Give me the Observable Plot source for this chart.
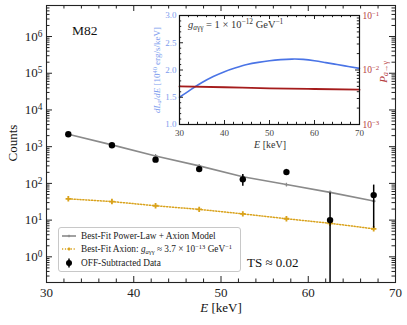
<!DOCTYPE html>
<html><head><meta charset="utf-8">
<script src="https://cdn.jsdelivr.net/npm/d3@7"></script>
<script src="https://cdn.jsdelivr.net/npm/@observablehq/plot@0.6"></script>
<style>
body{margin:0;overflow:hidden;background:#fff;font-family:"Liberation Serif",serif;}
#wrap{position:relative;width:407px;height:325px;overflow:hidden;}
.lab{position:absolute;white-space:nowrap;line-height:1;}
sub,sup{font-size:0.7em;line-height:0;}
sub{vertical-align:-0.25em;} sup{vertical-align:0.45em;}
.leg{position:absolute;left:58px;top:227px;width:181px;height:43px;border:1px solid #c8c8c8;border-radius:3px;background:rgba(255,255,255,0.85);}
.row{position:absolute;left:2px;height:12px;display:flex;align-items:center;font-size:9.3px;color:#222;white-space:nowrap;}
.row svg{margin-right:4px;}
</style></head><body><div id="wrap"></div>
<script>
// ---- data ----
const energy = [32.5, 37.5, 42.5, 47.5, 52.5, 57.5, 62.5, 67.5];
const dataCounts = [2180, 1090, 443, 245, 129, 203, 10, 48];
const dataErr = [90, 70, 55, 35, 45, 38, 45, 42];
const modelTotal = [2180, 1120, 560, 300, 152, 93, 57, 33];
const modelAxion = [38, 32, 24.6, 19.6, 14.8, 10.9, 8.2, 5.8];
const xTicks = [30, 40, 50, 60, 70];
const yTicks = [1, 10, 100, 1e3, 1e4, 1e5, 1e6];

const insetE = [30, 32.5, 35, 37.5, 40, 42.5, 45, 47.5, 50, 52.5, 55, 57.5, 60, 62.5, 65, 67.5, 70];
const insetDLdE = [1.50, 1.64, 1.77, 1.88, 1.97, 2.04, 2.10, 2.14, 2.17, 2.19, 2.20, 2.195, 2.17, 2.135, 2.10, 2.065, 2.03];
const probE = [30, 40, 50, 60, 70];
const probConv = [5.0e-3, 4.82e-3, 4.62e-3, 4.48e-3, 4.35e-3];
const insetYTicks = [1.0, 1.5, 2.0, 2.5, 3.0];
const insetPTicks = [1e-3, 1e-2, 1e-1];

// ---- helpers ----
const pow10 = d => "10^" + Math.round(Math.log10(d));
const FONT = "'Liberation Serif', serif";

function logMinor(lo, hi) {
  const out = [];
  for (let p = Math.floor(Math.log10(lo)); p <= Math.ceil(Math.log10(hi)); p++)
    for (let k = 2; k <= 9; k++) { const v = k * 10 ** p; if (v >= lo && v <= hi) out.push(v); }
  return out;
}
function xTickMarks(maj, min, ih, lMaj, lMin, stroke) {
  return [
    Plot.tickX(maj, {x: d => d, insetTop: ih - lMaj, stroke}),
    Plot.tickX(maj, {x: d => d, insetBottom: ih - lMaj, stroke}),
    Plot.tickX(min, {x: d => d, insetTop: ih - lMin, stroke}),
    Plot.tickX(min, {x: d => d, insetBottom: ih - lMin, stroke})
  ];
}
function yTickMarks(maj, min, iw, lMaj, lMin, stroke, sides) {
  const m = [];
  if (sides.includes("left")) m.push(
    Plot.tickY(maj, {y: d => d, insetRight: iw - lMaj, stroke}),
    Plot.tickY(min, {y: d => d, insetRight: iw - lMin, stroke}));
  if (sides.includes("right")) m.push(
    Plot.tickY(maj, {y: d => d, insetLeft: iw - lMaj, stroke}),
    Plot.tickY(min, {y: d => d, insetLeft: iw - lMin, stroke}));
  return m;
}
// turn "10^6" tick texts into 10 with a raised exponent
function superscriptTicks(svg) {
  d3.select(svg).selectAll('g[aria-label="y-axis tick label"] text').each(function () {
    const t = this.textContent;
    if (!t.includes("^")) return;
    const [b, e] = t.split("^");
    this.textContent = b;
    d3.select(this).append("tspan").attr("dy", "-0.42em").attr("font-size", "72%")
      .text(e.replace("-", "−"));
  });
}

const wrap = document.getElementById("wrap");

// ---- main plot ----
const W = 407, H = 325, mL = 46, mR = 12, mT = 5, mB = 43;
const iw = W - mL - mR, ih = H - mT - mB;
const yDom = [0.2, 7e6];
const rows = energy.map((E, i) => ({E, y: dataCounts[i], e: dataErr[i], m: modelTotal[i], a: modelAxion[i]}));
const GOLD = "#d9a21b", GRAY = "#8a8a8a";

const main = Plot.plot({
  width: W, height: H, marginLeft: mL, marginRight: mR, marginTop: mT, marginBottom: mB,
  style: {fontFamily: FONT, background: "transparent", color: "#222"},
  x: {domain: [30, 70]},
  y: {type: "log", domain: yDom},
  marks: [
    Plot.line(rows, {x: "E", y: "a", stroke: GOLD, strokeWidth: 1.5, strokeDasharray: "1.2,1.7"}),
    Plot.dot(rows, {x: "E", y: "a", r: 2.3, symbol: "cross", fill: GOLD}),
    Plot.line(rows, {x: "E", y: "m", stroke: GRAY, strokeWidth: 1.6}),
    Plot.dot(rows, {x: "E", y: "m", r: 1.6, symbol: "cross", fill: GRAY}),
    Plot.ruleX(rows, {x: "E", y1: d => Math.max(d.y - d.e, yDom[0]), y2: d => d.y + d.e, stroke: "#000", strokeWidth: 1.5, clip: true}),
    Plot.dot(rows, {x: "E", y: "y", r: 3.2, fill: "#000"}),
    ...xTickMarks(xTicks, d3.range(30, 71, 2).filter(v => v % 10), ih, 6, 3.5, "#222"),
    ...yTickMarks(yTicks, logMinor(yDom[0], yDom[1]), iw, 6, 3.5, "#222", ["left", "right"]),
    Plot.axisX({ticks: xTicks, tickSize: 0, tickPadding: 5.5, fontSize: 13, label: null}),
    Plot.axisY({ticks: yTicks, tickSize: 0, tickPadding: 4, fontSize: 13, label: null, tickFormat: pow10}),
    Plot.frame({stroke: "#222", strokeWidth: 1.1})
  ]
});
superscriptTicks(main);
main.style.position = "absolute"; main.style.left = "0px"; main.style.top = "0px";
wrap.appendChild(main);

// ---- inset ----
const iW = 288, iH = 159, imL = 60, imR = 48, imT = 10, imB = 40;
const iiw = iW - imL - imR, iih = iH - imT - imB;
const lumRows = insetE.map((E, i) => ({E, L: insetDLdE[i]}));
const probRows = probE.map((E, i) => ({E, P: probConv[i]}));
const BLUE = "#4a74e6", BLUE_L = "#7d9cee", RED = "#a51c1c", RED_L = "#b5403f";

const inset1 = Plot.plot({
  width: iW, height: iH, marginLeft: imL, marginRight: imR, marginTop: imT, marginBottom: imB,
  style: {fontFamily: FONT, background: "transparent"},
  x: {domain: [30, 70]},
  y: {domain: [1, 3]},
  marks: [
    Plot.frame({fill: "#fff", stroke: "none"}),
    Plot.line(lumRows, {x: "E", y: "L", stroke: BLUE, strokeWidth: 1.6, curve: "natural"}),
    ...xTickMarks(xTicks, d3.range(30, 71, 2).filter(v => v % 10), iih, 4, 2.2, "#222"),
    ...yTickMarks(insetYTicks, d3.range(11, 30).filter(v => v % 5).map(v => v / 10), iiw, 4, 2.2, "#222", ["left"]),
    Plot.axisX({ticks: xTicks, tickSize: 0, tickPadding: 5, fontSize: 9, color: "#444", label: null}),
    Plot.axisY({ticks: insetYTicks, tickSize: 0, tickPadding: 3, fontSize: 9, color: BLUE_L, label: null, tickFormat: d => d.toFixed(1)})
  ]
});
const inset2 = Plot.plot({
  width: iW, height: iH, marginLeft: imL, marginRight: imR, marginTop: imT, marginBottom: imB,
  style: {fontFamily: FONT, background: "transparent"},
  x: {domain: [30, 70], axis: null},
  y: {type: "log", domain: [1e-3, 1e-1]},
  marks: [
    Plot.line(probRows, {x: "E", y: "P", stroke: RED, strokeWidth: 1.8, curve: "natural"}),
    ...yTickMarks(insetPTicks, logMinor(1e-3, 1e-1), iiw, 4, 2.2, "#222", ["right"]),
    Plot.axisY({anchor: "right", ticks: insetPTicks, tickSize: 0, tickPadding: 3, fontSize: 9.5, color: RED_L, label: null, tickFormat: pow10}),
    Plot.frame({stroke: "#111", strokeWidth: 1.2})
  ]
});
superscriptTicks(inset2);
for (const s of [inset1, inset2]) {
  s.style.position = "absolute"; s.style.left = "119px"; s.style.top = "5px";
  wrap.appendChild(s);
}

// ---- text overlays ----
function label(html, x, y, {size = 13, color = "#111", rotate = 0, anchor = "middle"} = {}) {
  const d = document.createElement("div");
  d.className = "lab";
  d.innerHTML = html;
  d.style.left = x + "px"; d.style.top = y + "px";
  d.style.fontSize = size + "px"; d.style.color = color;
  const tx = anchor === "start" ? "0" : anchor === "end" ? "-100%" : "-50%";
  d.style.transform = `translate(${tx},-50%)` + (rotate ? ` rotate(${rotate}deg)` : "");
  wrap.appendChild(d);
}
label("M82", 72, 31, {size: 13.5, anchor: "start"});
label("TS ≈ 0.02", 247, 262, {size: 13, anchor: "start"});
label("Counts", 12, 143, {size: 13, rotate: -90});
label("<i>E</i> [keV]", 221, 307, {size: 13});
label("<i>g</i><sub><i>a</i>γγ</sub> = 1 × 10<sup>−12</sup> GeV<sup>−1</sup>", 188, 25, {size: 10.5, color: "#333", anchor: "start"});
label("<i>dL<sub>a</sub></i>/<i>dE</i> [10<sup>40</sup> erg/s/keV]", 157, 70, {size: 9, color: BLUE_L, rotate: -90});
label("<i>P</i><sub><i>a</i>→γ</sub>", 383, 72, {size: 11, color: RED_L, rotate: -90});
label("<i>E</i> [keV]", 270, 145, {size: 10, color: "#333"});

// ---- legend ----
const leg = document.createElement("div");
leg.className = "leg";
const sw = (kind) => {
  if (kind === "gray") return `<svg width="16" height="8"><line x1="1" y1="4" x2="15" y2="4" stroke="${GRAY}" stroke-width="1.6"/><path d="M6.8,4h2.4M8,2.8v2.4" stroke="${GRAY}" stroke-width="1.2"/></svg>`;
  if (kind === "gold") return `<svg width="16" height="8"><line x1="1" y1="4" x2="15" y2="4" stroke="${GOLD}" stroke-width="1.5" stroke-dasharray="1.2,1.7"/><path d="M6.5,4h3M8,2.5v3" stroke="${GOLD}" stroke-width="1.6"/></svg>`;
  return `<svg width="16" height="10"><line x1="8" y1="0.5" x2="8" y2="9.5" stroke="#000" stroke-width="1.5"/><circle cx="8" cy="5" r="3" fill="#000"/></svg>`;
};
const legRows = [
  [sw("gray"), "Best-Fit Power-Law + Axion Model"],
  [sw("gold"), "Best-Fit Axion: <i>g</i><sub><i>a</i>γγ</sub> ≈ 3.7 × 10<sup>−13</sup> GeV<sup>−1</sup>"],
  [sw("data"), "OFF-Subtracted Data"]
];
legRows.forEach(([s, t], i) => {
  const r = document.createElement("div");
  r.className = "row";
  r.style.top = (2 + i * 13.4) + "px";
  r.innerHTML = s + "<span>" + t + "</span>";
  leg.appendChild(r);
});
wrap.appendChild(leg);
</script></body></html>
